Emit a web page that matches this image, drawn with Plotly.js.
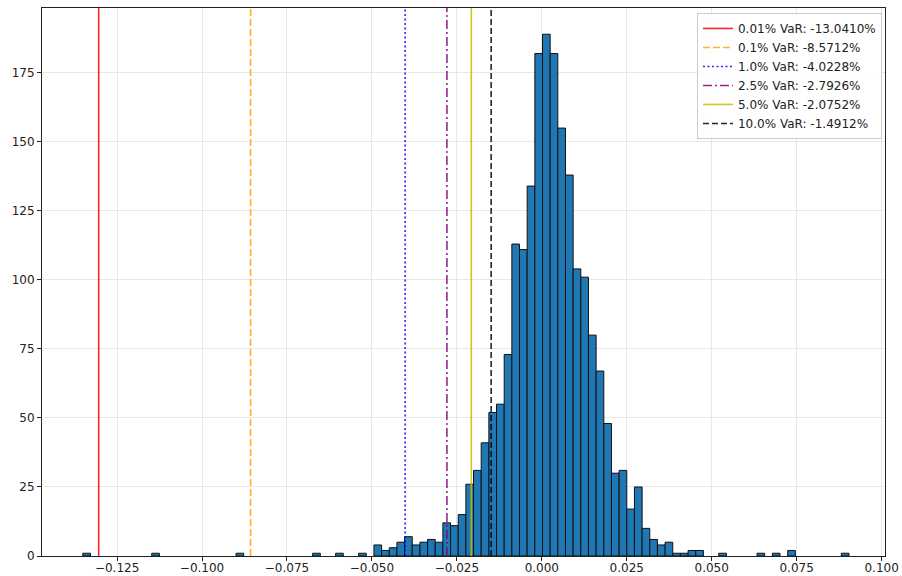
<!DOCTYPE html>
<html>
<head>
<meta charset="utf-8">
<script src="https://cdn.plot.ly/plotly-3.0.1.min.js"></script>
<style>html,body{margin:0;padding:0;background:#fff;}#chart{width:902px;height:576px;}</style>
</head>
<body>
<div id="chart"></div>
<script>
// Histogram of returns: 100 equal-width bins
const binStart = -0.1351;
const binWidth = 0.002255;
const counts = [
  1,0,0,0,0,0,0,0,0,1,
  0,0,0,0,0,0,0,0,0,0,
  1,0,0,0,0,0,0,0,0,0,
  1,0,0,1,0,0,1,0,4,2,
  3,5,7,4,5,6,5,12,11,15,
  26,31,41,52,55,73,113,111,134,182,
  189,182,155,138,104,101,80,67,48,30,
  31,17,25,10,6,4,5,1,1,2,
  2,0,0,1,0,0,0,0,1,0,
  1,0,2,0,0,0,0,0,0,1
];

// VaR levels
const varLabels = ["0.01%", "0.1%", "1.0%", "2.5%", "5.0%", "10.0%"];
const varValues = [-0.130410, -0.085712, -0.040228, -0.027926, -0.020752, -0.014912];
const varColors = ["#ff0000", "#ffa500", "#0000ff", "#800080", "#bfbf00", "#000000"];
const varDashes = ["solid", "7px,3px", "2px,2.5px", "9px,3px,2px,3px", "solid", "6px,3px"];

const xRange = [-0.1471, 0.1010];
const yRange = [0, 198.5];
const xTicks = [-0.125, -0.100, -0.075, -0.050, -0.025, 0.000, 0.025, 0.050, 0.075, 0.100];
const yTicks = [0, 25, 50, 75, 100, 125, 150, 175];

const binCenters = counts.map((_, i) => binStart + (i + 0.5) * binWidth);

const traces = [{
  type: 'bar',
  x: binCenters,
  y: counts.map(c => (c === 0 ? null : c)),
  width: binWidth,
  marker: {color: '#1f77b4', line: {color: '#111111', width: 1}},
  showlegend: false,
  hoverinfo: 'x+y'
}];

varValues.forEach((v, i) => {
  traces.push({
    type: 'scatter',
    mode: 'lines',
    x: [v, v],
    y: [yRange[0], yRange[1]],
    name: varLabels[i] + ' VaR: ' + (v * 100).toFixed(4) + '%',
    line: {color: varColors[i], width: 1.6, dash: varDashes[i]},
    opacity: 0.85
  });
});

const font = {family: 'DejaVu Sans, sans-serif', size: 12, color: '#222'};

const layout = {
  width: 902,
  height: 576,
  margin: {l: 42, r: 17, t: 8, b: 20},
  paper_bgcolor: '#fff',
  plot_bgcolor: '#fff',
  font: font,
  bargap: 0,
  xaxis: {
    range: xRange,
    tickmode: 'array',
    tickvals: xTicks,
    ticktext: xTicks.map(t => (t < 0 ? '\u2212' : '') + Math.abs(t).toFixed(3)),
    showgrid: true,
    gridcolor: '#e8e8e8',
    gridwidth: 1,
    zeroline: false,
    showline: true,
    linecolor: '#222',
    linewidth: 1,
    mirror: true,
    ticks: 'outside',
    ticklen: 4,
    tickwidth: 1,
    tickcolor: '#222',
    ticklabelstandoff: -3,
    tickfont: font
  },
  yaxis: {
    range: yRange,
    tickmode: 'array',
    tickvals: yTicks,
    showgrid: true,
    gridcolor: '#e8e8e8',
    gridwidth: 1,
    zeroline: false,
    showline: true,
    linecolor: '#222',
    linewidth: 1,
    mirror: true,
    ticks: 'outside',
    ticklen: 4,
    tickwidth: 1,
    tickcolor: '#222',
    tickfont: font
  },
  legend: {
    x: 0.9964, xanchor: 'right',
    y: 0.991, yanchor: 'top',
    bgcolor: 'rgba(255,255,255,0.85)',
    bordercolor: '#cccccc',
    borderwidth: 1,
    font: font,
    itemwidth: 30
  }
};

Plotly.newPlot('chart', traces, layout, {displayModeBar: false, staticPlot: true});
</script>
</body>
</html>
